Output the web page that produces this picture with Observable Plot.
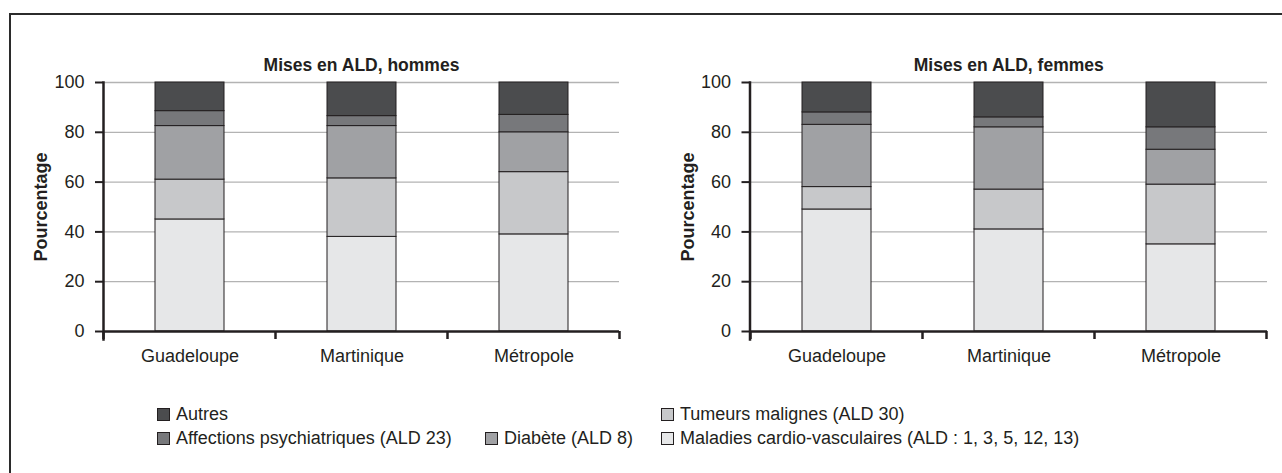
<!DOCTYPE html>
<html>
<head>
<meta charset="utf-8">
<script src="https://cdn.jsdelivr.net/npm/d3@7"></script>
<script src="https://cdn.jsdelivr.net/npm/@observablehq/plot@0.6"></script>
<style>
  body { margin: 0; background: #fff; }
  #wrap { position: relative; width: 1282px; height: 473px; overflow: hidden; background: #fff;
          font-family: "Liberation Sans Narrow", "Liberation Sans", Arial, sans-serif; color: #231f20; }
  #frame { position: absolute; left: 9px; top: 13px; width: 1400px; height: 600px;
           border-top: 2px solid #2b2b2b; border-left: 2px solid #2b2b2b; }
  .chart { position: absolute; top: 0; }
  .leg { position: absolute; font-size: 18px; line-height: 20px; white-space: nowrap; }
  .leg i { display: inline-block; width: 11px; height: 11px; border: 1px solid #231f20; margin-right: 6px; vertical-align: -1px; }
</style>
</head>
<body>
<div id="wrap">
  <div id="frame"></div>
  <div id="left" class="chart" style="left:0px"></div>
  <div id="right" class="chart" style="left:640px"></div>
  <div id="legend"></div>
</div>
<script>
// ---- data ----
const regions = ["Guadeloupe", "Martinique", "Métropole"];
const categories = [
  "Maladies cardio-vasculaires (ALD : 1, 3, 5, 12, 13)",
  "Tumeurs malignes (ALD 30)",
  "Diabète (ALD 8)",
  "Affections psychiatriques (ALD 23)",
  "Autres"
];
const colors = ["#e6e7e8", "#c7c8ca", "#a0a1a4", "#77787b", "#4b4c4e"];
const titles = ["Mises en ALD, hommes", "Mises en ALD, femmes"];
const yLabel = "Pourcentage";
const yTicks = [0, 20, 40, 60, 80, 100];

const hommesCardio   = [45, 38, 39];
const hommesTumeurs  = [16, 23.5, 25];
const hommesDiabete  = [21.5, 21, 16];
const hommesPsy      = [6, 4, 7];
const hommesAutres   = [11.5, 13.5, 13];

const femmesCardio   = [49, 41, 35];
const femmesTumeurs  = [9, 16, 24];
const femmesDiabete  = [25, 25, 14];
const femmesPsy      = [5, 4, 9];
const femmesAutres   = [12, 14, 18];

// legend layout (order as in the reference)
const legendItems = [
  {cat: 4, left: 157, top: 404},
  {cat: 1, left: 661, top: 404},
  {cat: 3, left: 157, top: 428},
  {cat: 2, left: 485, top: 428},
  {cat: 0, left: 661, top: 428}
];

function toRows(series) {
  const rows = [];
  series.forEach((vals, ci) => vals.forEach((v, ri) => rows.push({region: regions[ri], cat: categories[ci], value: v})));
  return rows;
}

const FONT = '"Liberation Sans Narrow", "Liberation Sans", Arial, sans-serif';

function makeChart(series, title, width, marginLeft, marginRight) {
  const rows = toRows(series);
  const chart = Plot.plot({
    width, height: 370,
    marginLeft, marginRight, marginTop: 82, marginBottom: 39,
    style: {fontFamily: FONT, fontSize: "18px", color: "#231f20", background: "transparent", overflow: "visible"},
    x: {domain: regions, paddingInner: 0.6, paddingOuter: 0.3, axis: null},
    y: {domain: [0, 100], axis: null},
    color: {domain: categories, range: colors},
    marks: [
      Plot.ruleY(yTicks.filter(d => d > 0), {stroke: "#b3b3b3", strokeWidth: 1.3}),
      Plot.barY(rows, {x: "region", y: "value", fill: "cat", stroke: "#231f20", strokeWidth: 1}),
      Plot.axisY({ticks: yTicks, tickSize: 8, tickPadding: 11, fontSize: 18, stroke: "#231f20", strokeWidth: 2, label: null}),
      Plot.axisX({tickSize: 0, tickPadding: 18, fontSize: 18, label: null}),
      Plot.ruleY([0], {stroke: "#231f20", strokeWidth: 2.5}),
      Plot.frame({anchor: "left", stroke: "#231f20", strokeWidth: 2.5, insetBottom: -8}),
      Plot.text([title], {frameAnchor: "top", dy: -24, fontWeight: "bold", fontSize: 17.5, fill: "#231f20"}),
      Plot.text([yLabel], {frameAnchor: "left", textAnchor: "middle", dx: -62, rotate: -90, fontWeight: "bold", fontSize: 18, fill: "#231f20"})
    ]
  });
  // category boundary ticks below the x axis, from the band scale
  const xs = chart.scale("x");
  const bounds = regions.map(r => xs.apply(r) - (xs.step - xs.bandwidth) / 2);
  bounds.push(xs.apply(regions[regions.length - 1]) + xs.bandwidth + (xs.step - xs.bandwidth) / 2);
  const y0 = chart.scale("y").apply(0);
  d3.select(chart).append("g")
    .selectAll("line").data(bounds).join("line")
    .attr("x1", d => d).attr("x2", d => d)
    .attr("y1", y0).attr("y2", y0 + 8)
    .attr("stroke", "#231f20").attr("stroke-width", 2.5);
  return chart;
}

document.getElementById("left").append(
  makeChart([hommesCardio, hommesTumeurs, hommesDiabete, hommesPsy, hommesAutres], titles[0], 640, 103, 21));
document.getElementById("right").append(
  makeChart([femmesCardio, femmesTumeurs, femmesDiabete, femmesPsy, femmesAutres], titles[1], 642, 109.5, 15));

const legend = document.getElementById("legend");
legendItems.forEach(it => {
  const d = document.createElement("div");
  d.className = "leg";
  d.style.left = it.left + "px";
  d.style.top = it.top + "px";
  const sw = document.createElement("i");
  sw.style.background = colors[it.cat];
  d.append(sw, document.createTextNode(categories[it.cat]));
  legend.append(d);
});
</script>
</body>
</html>
